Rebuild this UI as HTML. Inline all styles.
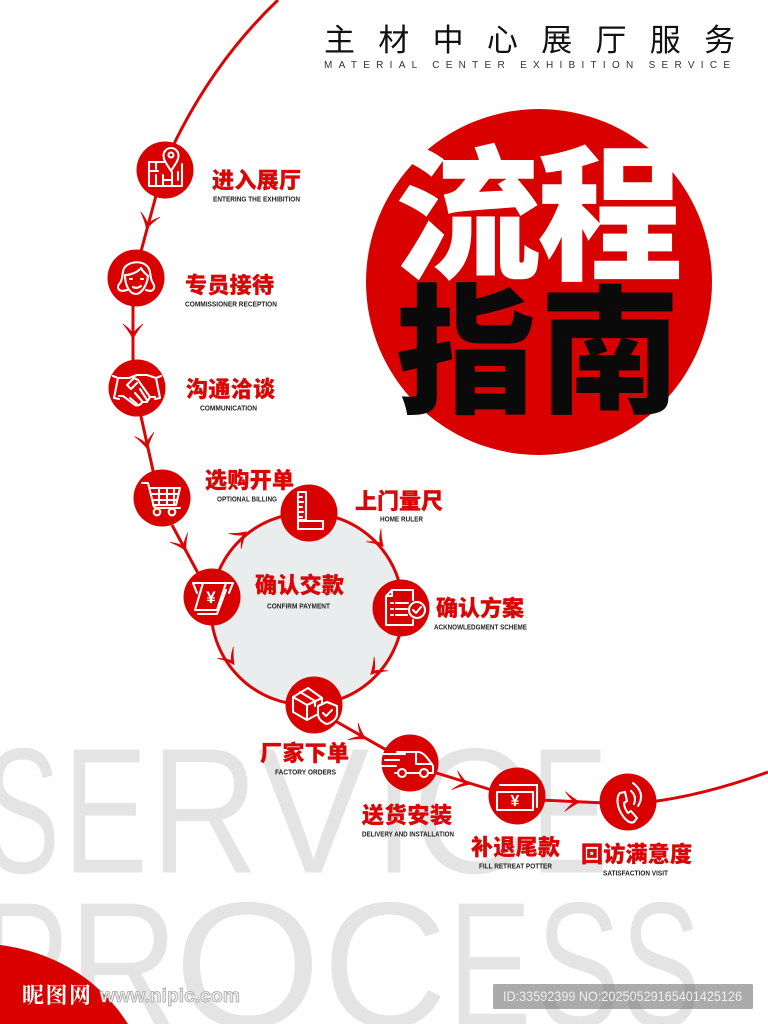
<!DOCTYPE html>
<html lang="zh"><head><meta charset="utf-8"><title>流程指南</title>
<style>
html,body{margin:0;padding:0;background:#fff}
svg{display:block}
text{font-family:"Liberation Sans","Noto Sans CJK SC",sans-serif}
.cn{font-size:22px;font-weight:900;fill:#d90606;stroke:#d90606;stroke-width:.25}
.en{font-size:7px;font-weight:700;fill:#222}
.ic{fill:none;stroke:#fff;stroke-width:2.1;stroke-linejoin:round;stroke-linecap:round}
.ar{fill:#d90606;stroke:#d90606;stroke-width:.6}
.bg{font-size:180px;fill:#e4e4e4;stroke:#fff;stroke-width:1}
.big{font-size:146px;font-weight:900}
</style></head><body>
<svg width="768" height="1024" viewBox="0 0 768 1024" xmlns="http://www.w3.org/2000/svg">
<rect width="768" height="1024" fill="#fff"/>

<!-- background words -->
<text class="bg" x="-16" y="873" textLength="76" lengthAdjust="spacingAndGlyphs">S</text>
<text class="bg" x="63" y="873" textLength="85" lengthAdjust="spacingAndGlyphs">E</text>
<text class="bg" x="150" y="873" textLength="109" lengthAdjust="spacingAndGlyphs">R</text>
<text class="bg" x="257" y="873" textLength="113" lengthAdjust="spacingAndGlyphs">V</text>
<text class="bg" x="374" y="873" textLength="40" lengthAdjust="spacingAndGlyphs">I</text>
<text class="bg" x="411" y="873" textLength="120" lengthAdjust="spacingAndGlyphs">C</text>
<text class="bg" x="531" y="873" textLength="77" lengthAdjust="spacingAndGlyphs">E</text>
<text class="bg" x="-21" y="1027" textLength="90" lengthAdjust="spacingAndGlyphs">P</text>
<text class="bg" x="68" y="1027" textLength="111" lengthAdjust="spacingAndGlyphs">R</text>
<text class="bg" x="173.500" y="1027" textLength="148" lengthAdjust="spacingAndGlyphs">O</text>
<text class="bg" x="322" y="1027" textLength="126" lengthAdjust="spacingAndGlyphs">C</text>
<text class="bg" x="448" y="1027" textLength="84" lengthAdjust="spacingAndGlyphs">E</text>
<text class="bg" x="536" y="1027" textLength="85" lengthAdjust="spacingAndGlyphs">S</text>
<text class="bg" x="621" y="1027" textLength="80" lengthAdjust="spacingAndGlyphs">S</text>

<!-- title -->
<text x="324 378.300 432.600 486.900 541.200 595.500 649.800 704.100" y="51" style="font-size:31px;font-weight:400;fill:#111">主材中心展厅服务</text>
<text x="324" y="68" textLength="406" style="font-size:10px;fill:#333">MATERIAL CENTER EXHIBITION SERVICE</text>

<!-- big disc -->
<circle cx="539" cy="282" r="173" fill="#d90000"/>
<g text-anchor="middle">
<text class="big" x="468" y="268" fill="#fff">流</text>
<text class="big" x="610" y="268" fill="#fff">程</text>
<text class="big" x="466" y="402" fill="#0a0a0a" style="font-size:140px">指</text>
<text class="big" x="610" y="402" fill="#0a0a0a" style="font-size:140px">南</text>
</g>

<!-- ring -->
<circle cx="307" cy="609" r="96" fill="#e9eded" stroke="#d90606" stroke-width="3"/>

<!-- path -->
<g fill="none" stroke="#d90606" stroke-width="3">
<path d="M278,0 Q213,62 172,148"/>
<path d="M157,192 L140,255"/>
<path d="M133,300 V365"/>
<path d="M140,412 L154,475"/>
<path d="M172,525 L199,575"/>
<path d="M330,718 L390,752"/>
<path d="M430,771 L495,791"/>
<path d="M540,800 L605,803"/>
<path d="M650,802 Q705,795 768,772"/>
</g>

<!-- arrows -->
<g class="ar">
<path transform="translate(147,227) rotate(105)" d="M-13,-10 Q-6,-4 2,0 Q-6,4 -13,10 Q-7,2 -3,0 Q-7,-2 -13,-10Z"/>
<path transform="translate(133,337) rotate(90)" d="M-13,-10 Q-6,-4 2,0 Q-6,4 -13,10 Q-7,2 -3,0 Q-7,-2 -13,-10Z"/>
<path transform="translate(147,447) rotate(78)" d="M-13,-10 Q-6,-4 2,0 Q-6,4 -13,10 Q-7,2 -3,0 Q-7,-2 -13,-10Z"/>
<path transform="translate(185,549) rotate(62)" d="M-13,-10 Q-6,-4 2,0 Q-6,4 -13,10 Q-7,2 -3,0 Q-7,-2 -13,-10Z"/>
<path transform="translate(245,533) rotate(-39)" d="M-13,-10 Q-6,-4 2,0 Q-6,4 -13,10 Q-7,2 -3,0 Q-7,-2 -13,-10Z"/>
<path transform="translate(382,545) rotate(49)" d="M-13,-10 Q-6,-4 2,0 Q-6,4 -13,10 Q-7,2 -3,0 Q-7,-2 -13,-10Z"/>
<path transform="translate(372,673) rotate(135)" d="M-13,-10 Q-6,-4 2,0 Q-6,4 -13,10 Q-7,2 -3,0 Q-7,-2 -13,-10Z"/>
<path transform="translate(233,663) rotate(54)" d="M-13,-10 Q-6,-4 2,0 Q-6,4 -13,10 Q-7,2 -3,0 Q-7,-2 -13,-10Z"/>
<path transform="translate(364,738) rotate(31)" d="M-13,-10 Q-6,-4 2,0 Q-6,4 -13,10 Q-7,2 -3,0 Q-7,-2 -13,-10Z"/>
<path transform="translate(467,784) rotate(17)" d="M-13,-10 Q-6,-4 2,0 Q-6,4 -13,10 Q-7,2 -3,0 Q-7,-2 -13,-10Z"/>
<path transform="translate(578,802) rotate(2)" d="M-13,-10 Q-6,-4 2,0 Q-6,4 -13,10 Q-7,2 -3,0 Q-7,-2 -13,-10Z"/>
</g>

<!-- nodes -->
<g fill="#d90000">
<circle cx="165" cy="170" r="28.5"/><circle cx="136" cy="278" r="28.5"/><circle cx="137" cy="388" r="28.5"/>
<circle cx="162" cy="498" r="28.5"/><circle cx="212" cy="597" r="28.5"/><circle cx="309" cy="513" r="28.5"/>
<circle cx="401" cy="608" r="28.5"/><circle cx="314" cy="705" r="28.5"/><circle cx="410" cy="763" r="28.5"/>
<circle cx="517" cy="796" r="28.5"/><circle cx="628" cy="802" r="28.5"/>
</g>

<!-- icons -->
<g class="ic">
<!-- map -->
<path d="M165,162 H149 V186 H182 V164 M149,171 H158 M156,162 V169 M156,175 V186 M163,175 V186 M163,180 H172 M172,172 V186 M178,172 V180"/>
<path d="M171,171 C166,163 163.500,160 163.500,155.500 A7.500,7.500 0 1 1 178.500,155.500 C178.500,160 176,163 171,171Z" fill="#d90000"/>
<circle cx="171" cy="155" r="2.500"/>
<!-- face -->
<path d="M127,290 C118,293 116,287 120,283 C124,278 121,270 126,266 C132,261 142,261 147,266 C152,271 149,278 153,283 C156,288 153,293 146,290"/>
<path d="M125,275 C131,275 138,272 141,268 C143,272 146,274 148,276 C147,286 141,294 136,294 C130,294 125,286 125,275Z" fill="#d90000"/>
<path d="M130,279 h2 M141,279 h2 M133,287 Q137,289 141,286"/>
<!-- handshake -->
<path d="M113,376 L118,378 L114,398 L119,399 M161,376 L156,378 L160,398 L155,399"/>
<path d="M118,378 H129 L137,375 H147 L156,378 M119,396 H123 L135,405 C138,406 141,405 142,402 L147,402 L150,397 L155,397"/>
<path d="M127,385 L134,378 L138,380 L150,397 M130,398 L137,404 M135,393 L142,401 M140,389 L147,400 M127,385 L131,389 L137,383"/>
<!-- cart -->
<path d="M142,483 H148 L153,503 C153,507 155,508 158,508 H180 M150,488 H180 L176,505 H153 M152,494 H178 M153,500 H177 M159,488 V505 M167,488 V505 M174,488 V505"/>
<circle cx="157" cy="512" r="3.300"/><circle cx="172" cy="512" r="3.300"/>
<!-- payment -->
<path d="M197,593 L193,583 H233 L229,593 M203,583 H226 L217,610 H195 Z" fill="#d90000"/>
<path d="M198,614 H217 L226,590"/>
<!-- ruler -->
<path d="M298,492 H306 V520 H298 Z M298,521 H323 V529 H298 Z M298,497 H302 M298,502 H303 M298,507 H302 M298,512 H303 M298,517 H302"/>
<!-- doc -->
<path d="M386,596 L392,590 H413 V600 M413,620 V625 H386 V596 M392,590 V596 H386 M391,603 H393 M396,603 H408 M391,609 H393 M396,609 H407 M391,615 H393 M396,615 H407"/>
<circle cx="417" cy="610" r="8" fill="#d90000"/><path d="M413,610 L416,613 L421,607"/>
<!-- box -->
<path d="M308,688 L293,697 V712 L307,720 L322,712 V698 Z M293,697 L307,705 L322,698 M307,705 V720 M300,692 L315,701 V706"/>
<path d="M327,702 L337,706 V714 C337,719 331,723 327,724 C323,723 318,719 318,714 V706 Z" fill="#d90000"/>
<path d="M323,713 L326,716 L332,710"/>
<!-- van -->
<path d="M397,752 H418 C424,752 429,760 433,766 V773 H429 M419,773 H407 M397,773 H395 M416,752 V764 H432 M382,754 H405 M385,760 H399 M382,766 H396"/>
<circle cx="402" cy="773" r="4"/><circle cx="424" cy="773" r="4"/>
<!-- money -->
<path d="M497,792 H533 V810 H497 Z M500,785 H537 V807"/>
<!-- phone -->
<path d="M620,793 C617,796 616,804 621,813 C625,820 630,824 634,822 L637,818 L631,811 L628,813 C626,811 624,806 624,803 L627,801 L625,792 Z"/>
<path d="M631,791 Q637,796 634,804 M633,783 Q646,793 638,806"/>
</g>
<g text-anchor="middle">
<text x="211" y="603" style="font-size:17px;font-weight:700;fill:#fff">¥</text>
<text x="515" y="806" style="font-size:16px;font-weight:700;fill:#fff">¥</text>
</g>

<!-- labels -->
<text class="cn" x="212" y="188" textLength="89">进入展厅</text>
<text class="en" x="213" y="201.500" textLength="87" lengthAdjust="spacingAndGlyphs">ENTERING THE EXHIBITION</text>
<text class="cn" x="185" y="293" textLength="89">专员接待</text>
<text class="en" x="185" y="306.500" textLength="92" lengthAdjust="spacingAndGlyphs">COMMISSIONER RECEPTION</text>
<text class="cn" x="186" y="397" textLength="89">沟通洽谈</text>
<text class="en" x="200" y="410.500" textLength="57" lengthAdjust="spacingAndGlyphs">COMMUNICATION</text>
<text class="cn" x="205" y="488" textLength="89">选购开单</text>
<text class="en" x="217" y="501.500" textLength="60" lengthAdjust="spacingAndGlyphs">OPTIONAL BILLING</text>
<text class="cn" x="355" y="509" textLength="88">上门量尺</text>
<text class="en" x="380" y="521.500" textLength="43" lengthAdjust="spacingAndGlyphs">HOME RULER</text>
<text class="cn" x="255" y="593" textLength="89">确认交款</text>
<text class="en" x="267" y="608.500" textLength="63" lengthAdjust="spacingAndGlyphs">CONFIRM PAYMENT</text>
<text class="cn" x="436" y="616" textLength="88">确认方案</text>
<text class="en" x="434" y="629.500" textLength="93" lengthAdjust="spacingAndGlyphs">ACKNOWLEDGMENT SCHEME</text>
<text class="cn" x="260" y="761" textLength="89">厂家下单</text>
<text class="en" x="275" y="774.500" textLength="61" lengthAdjust="spacingAndGlyphs">FACTORY ORDERS</text>
<text class="cn" x="362" y="823" textLength="90">送货安装</text>
<text class="en" x="362" y="836.500" textLength="92" lengthAdjust="spacingAndGlyphs">DELIVERY AND INSTALLATION</text>
<text class="cn" x="471" y="855" textLength="89">补退尾款</text>
<text class="en" x="479" y="868.500" textLength="73" lengthAdjust="spacingAndGlyphs">FILL RETREAT POTTER</text>
<text class="cn" x="581" y="862" textLength="111">回访满意度</text>
<text class="en" x="603" y="875.500" textLength="65" lengthAdjust="spacingAndGlyphs">SATISFACTION VISIT</text>

<!-- bottom left corner -->
<path d="M0,945 C55,952 100,980 128,1024 H0 Z" fill="#d90000"/>
<text x="22" y="1003" textLength="69" style="font-family:'Noto Serif CJK SC',serif;font-size:22px;font-weight:700;fill:#fff">昵图网</text>
<text x="100" y="1002" textLength="140" lengthAdjust="spacingAndGlyphs" style="font-size:19px;font-weight:700;fill:#eee;stroke:#a8a8a8;stroke-width:.8">www.nipic.com</text>

<!-- stamp -->
<rect x="493" y="984" width="260" height="25" rx="1.500" fill="#787878" fill-opacity=".62"/>
<text x="503" y="1001" textLength="239" lengthAdjust="spacingAndGlyphs" style="font-size:14px;fill:#eee">ID:33592399 NO:20250529165401425126</text>
</svg>
</body></html>
